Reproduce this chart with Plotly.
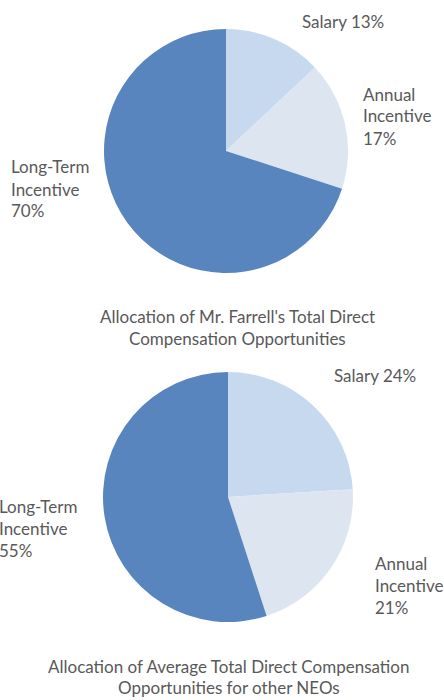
import plotly.graph_objects as go

W, H = 444, 700

categories = ["Salary", "Annual Incentive", "Long-Term Incentive"]
farrell_values = [13, 17, 70]
neo_values = [24, 21, 55]
colors = ["#c6d9ef", "#dde5f1", "#5985bf"]

title1 = ["Allocation of Mr. Farrell's Total Direct", "Compensation Opportunities"]
title2 = ["Allocation of Average Total Direct Compensation", "Opportunities for other NEOs"]

FONT = "Lato, 'Open Sans', sans-serif"
TXT = "#595959"
FS = 17


def px_x(x):
    return x / W


def px_y(y):
    return 1 - y / H


fig = go.Figure()
fig.add_trace(go.Pie(
    labels=categories, values=farrell_values, sort=False, direction="clockwise",
    rotation=0, marker=dict(colors=colors, line=dict(width=0)), textinfo="none",
    domain=dict(x=[px_x(104), px_x(348)], y=[px_y(273), px_y(29)]),
    showlegend=False, name="Mr. Farrell",
))
fig.add_trace(go.Pie(
    labels=categories, values=neo_values, sort=False, direction="clockwise",
    rotation=0, marker=dict(colors=colors, line=dict(width=0)), textinfo="none",
    domain=dict(x=[px_x(103), px_x(353)], y=[px_y(622), px_y(372)]),
    showlegend=False, name="Other NEOs",
))

ann = []


def add_lines(lines, x, y0, anchor="left", dy=22):
    for i, t in enumerate(lines):
        ann.append(dict(text=t, x=px_x(x), y=px_y(y0 + i * dy), xref="paper", yref="paper",
                        xanchor=anchor, yanchor="middle", showarrow=False,
                        font=dict(family=FONT, size=FS, color=TXT)))


add_lines([f"Salary {farrell_values[0]}%"], 300, 21)
add_lines(["Annual", "Incentive", f"{farrell_values[1]}%"], 361, 94)
add_lines(["Long-Term", "Incentive", f"{farrell_values[2]}%"], 9, 167)
add_lines(title1, 237, 316, anchor="center")

add_lines([f"Salary {neo_values[0]}%"], 332, 375)
add_lines(["Long-Term", "Incentive", f"{neo_values[2]}%"], -3, 506)
add_lines(["Annual", "Incentive", f"{neo_values[1]}%"], 373, 563)
add_lines(title2, 229, 666, anchor="center", dy=21)

fig.update_layout(
    width=W, height=H, margin=dict(l=0, r=0, t=0, b=0),
    paper_bgcolor="white", plot_bgcolor="white",
    annotations=ann,
)

fig.write_html("out.html", config={"displayModeBar": False},
               post_script="document.body.style.margin='0';")
